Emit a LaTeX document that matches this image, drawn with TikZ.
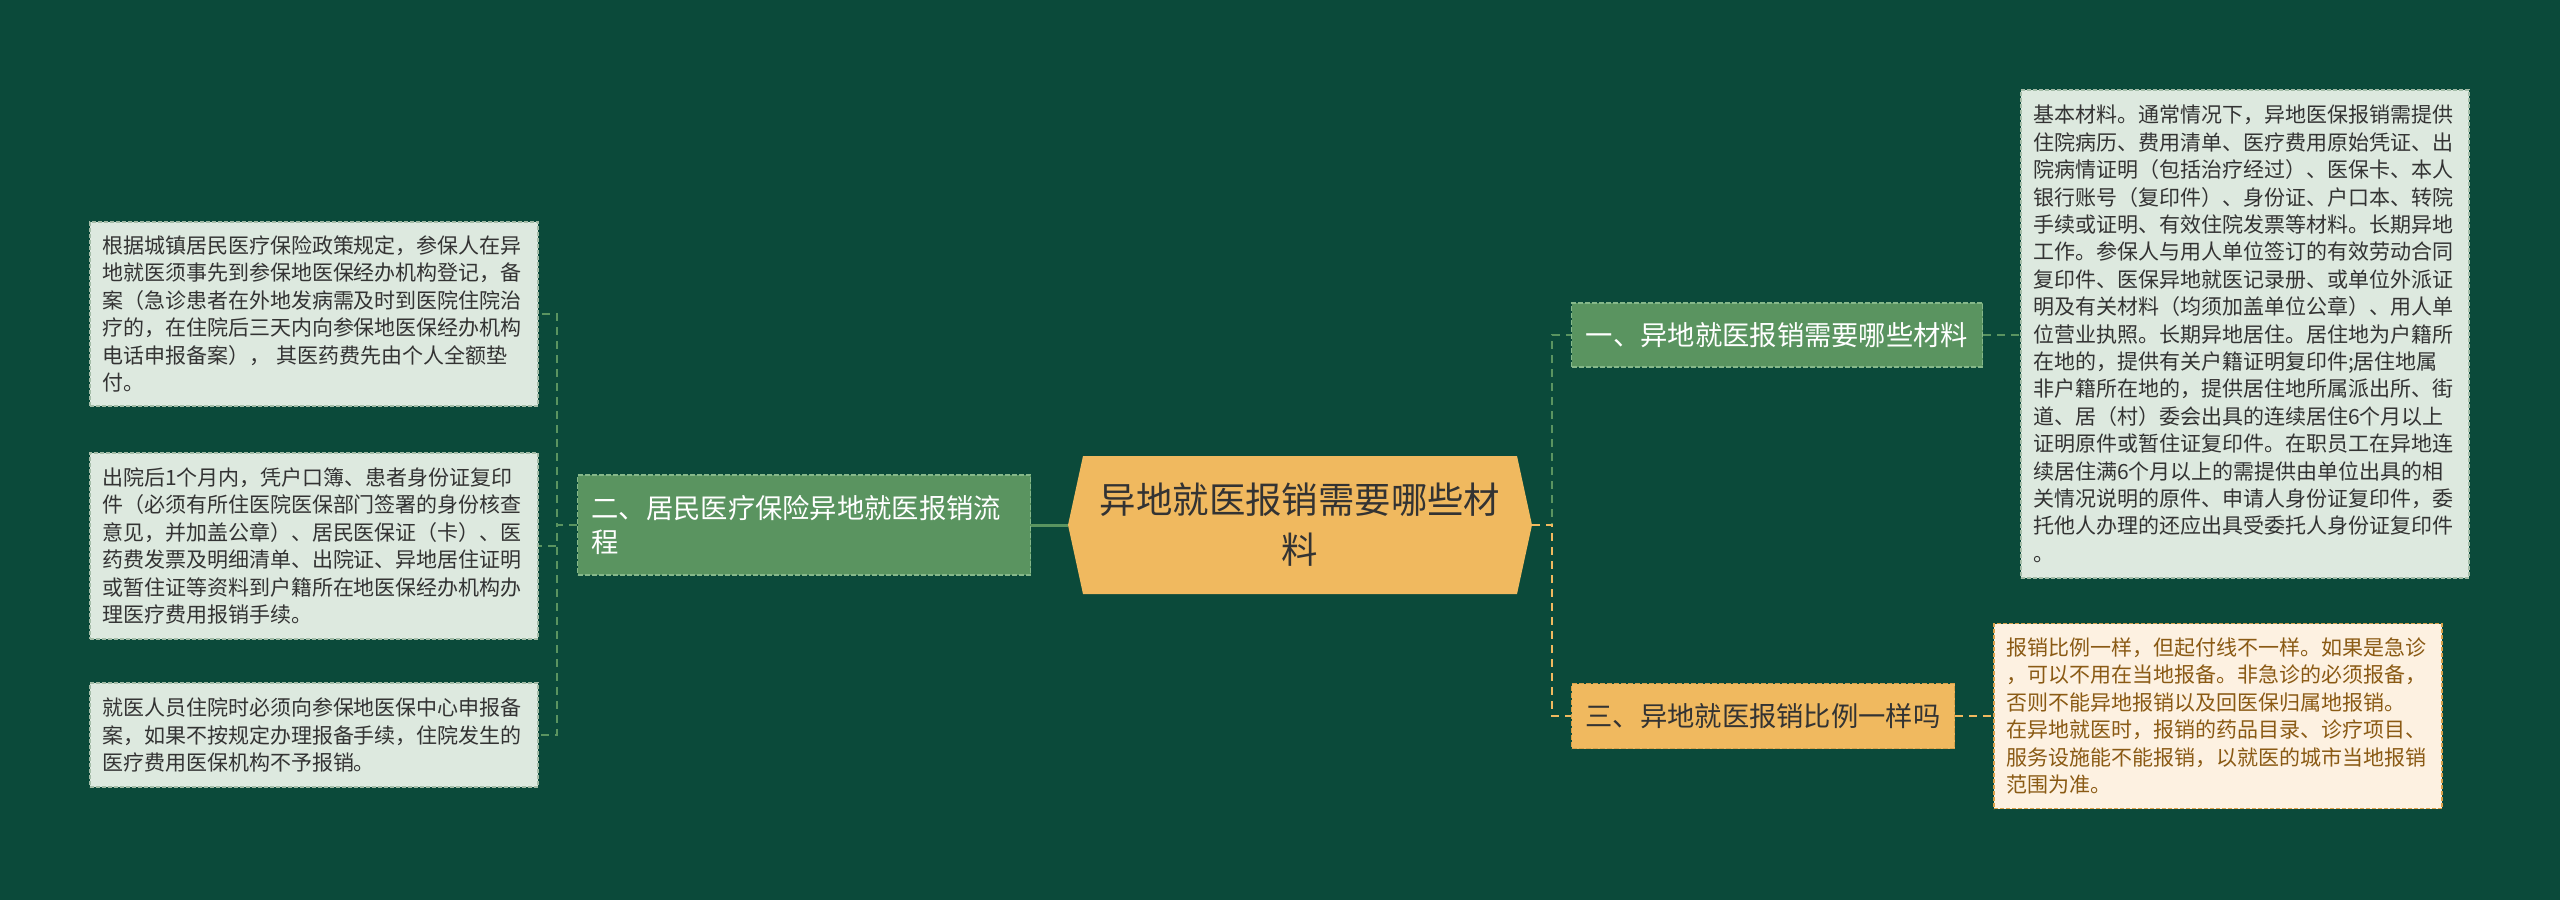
\documentclass[tikz,border=0pt]{standalone}
\usepackage{fontspec}
\newfontfamily\cjk{Noto Sans CJK SC}
\usetikzlibrary{calc}

\definecolor{bgc}{HTML}{0B4A3A}
\definecolor{brgreen}{HTML}{5A9460}
\definecolor{brline}{HTML}{86B88A}
\definecolor{leafc}{HTML}{DDE9DF}
\definecolor{leafline}{HTML}{A3BCA7}
\definecolor{gold}{HTML}{F0B95F}
\definecolor{goldline}{HTML}{D8A049}
\definecolor{cream}{HTML}{FDF1E1}
\definecolor{brown}{HTML}{8A5A14}
\definecolor{ink}{HTML}{333333}

\begin{document}
\begin{tikzpicture}[x=1pt, y=-1pt, font=\cjk,
  leaf/.style={fill=leafc, draw=leafline, line width=1.2pt, dash pattern=on 4pt off 2pt,
    text=ink, align=left, text width=424pt, inner xsep=12pt, inner ysep=0pt,
    font=\cjk\fontsize{21}{27.4}\selectfont},
  br/.style={fill=brgreen, draw=brline, line width=1.2pt, dash pattern=on 5pt off 2pt,
    text=white, align=left, inner xsep=14pt, inner ysep=0pt,
    font=\cjk\fontsize{27.3}{33.3}\selectfont},
  root/.style={text=ink, align=center, inner sep=0pt,
    font=\cjk\fontsize{36.4}{50}\selectfont},
  lnk/.style={brgreen, line width=3pt},
  dl/.style={brgreen, line width=2pt, dash pattern=on 8pt off 6pt},
  dlo/.style={gold, line width=2pt, dash pattern=on 8pt off 6pt}]
  \useasboundingbox (0,0) rectangle (2560,900);
  \fill[bgc] (0,0) rectangle (2560,900);
  % ---- root ----
  \coordinate (rc) at (1300,525);
  \fill[gold] ($(rc)+(-217,-69)$) -- ($(rc)+(217,-69)$) -- ($(rc)+(232,0)$)
    -- ($(rc)+(217,69)$) -- ($(rc)+(-217,69)$) -- ($(rc)+(-232,0)$) -- cycle;
  \node[root, minimum width=464pt, minimum height=138pt] (root) at (rc)
    {异地就医报销需要哪些材\\料};
  % ---- left side ----
  \node[br, text width=425pt, minimum height=100pt] (b2) at (804,525)
    {二、居民医疗保险异地就医报销流\\程};
  \node[leaf, minimum height=184pt] (l1) at (314,314)
    {根据城镇居民医疗保险政策规定，参保人在异\\
     地就医须事先到参保地医保经办机构登记，备\\
     案（急诊患者在外地发病需及时到医院住院治\\
     疗的，在住院后三天内向参保地医保经办机构\\
     电话申报备案）， 其医药费先由个人全额垫\\
     付。};
  \node[leaf, minimum height=186pt] (l2) at (314,546)
    {出院后1个月内，凭户口簿、患者身份证复印\\
     件（必须有所住医院医保部门签署的身份核查\\
     意见，并加盖公章）、居民医保证（卡）、医\\
     药费发票及明细清单、出院证、异地居住证明\\
     或暂住证等资料到户籍所在地医保经办机构办\\
     理医疗费用报销手续。};
  \node[leaf, minimum height=104pt] (l3) at (314,735)
    {就医人员住院时必须向参保地医保中心申报备\\
     案，如果不按规定办理报备手续，住院发生的\\
     医疗费用医保机构不予报销。};
  \draw[lnk] (root.west) -- (b2.east);
  \foreach \n in {l1,l2,l3}
    \draw[dl] (b2.west) -- ++(-20,0) |- (\n.east);
  % ---- right side ----
  \node[br, minimum width=411pt, minimum height=64pt] (b1) at (1777,335)
    {一、异地就医报销需要哪些材料};
  \node[br, fill=gold, draw=goldline, text=ink, minimum width=383pt, minimum height=65pt]
    (b3) at (1763,716) {三、异地就医报销比例一样吗};
  \node[leaf, minimum height=488pt] (r1) at (2245,334)
    {基本材料。通常情况下，异地医保报销需提供\\
     住院病历、费用清单、医疗费用原始凭证、出\\
     院病情证明（包括治疗经过）、医保卡、本人\\
     银行账号（复印件）、身份证、户口本、转院\\
     手续或证明、有效住院发票等材料。长期异地\\
     工作。参保人与用人单位签订的有效劳动合同\\
     复印件、医保异地就医记录册、或单位外派证\\
     明及有关材料（均须加盖单位公章）、用人单\\
     位营业执照。长期异地居住。居住地为户籍所\\
     在地的，提供有关户籍证明复印件;居住地属\\
     非户籍所在地的，提供居住地所属派出所、街\\
     道、居（村）委会出具的连续居住6个月以上\\
     证明原件或暂住证复印件。在职员工在异地连\\
     续居住满6个月以上的需提供由单位出具的相\\
     关情况说明的原件、申请人身份证复印件，委\\
     托他人办理的还应出具受委托人身份证复印件\\
     。};
  \node[leaf, fill=cream, draw=goldline, text=brown, minimum height=185pt] (r3) at (2218,716)
    {报销比例一样，但起付线不一样。如果是急诊\\
     ，可以不用在当地报备。非急诊的必须报备，\\
     否则不能异地报销以及回医保归属地报销。\\
     在异地就医时，报销的药品目录、诊疗项目、\\
     服务设施能不能报销，以就医的城市当地报销\\
     范围为准。};
  \draw[dl] (root.east) -- ++(20,0) |- (b1.west);
  \draw[dlo] (root.east) -- ++(20,0) |- (b3.west);
  \draw[dl] (b1.east) -- (b1.east -| r1.west);
  \draw[dlo] (b3.east) -- (b3.east -| r3.west);
\end{tikzpicture}
\end{document}
